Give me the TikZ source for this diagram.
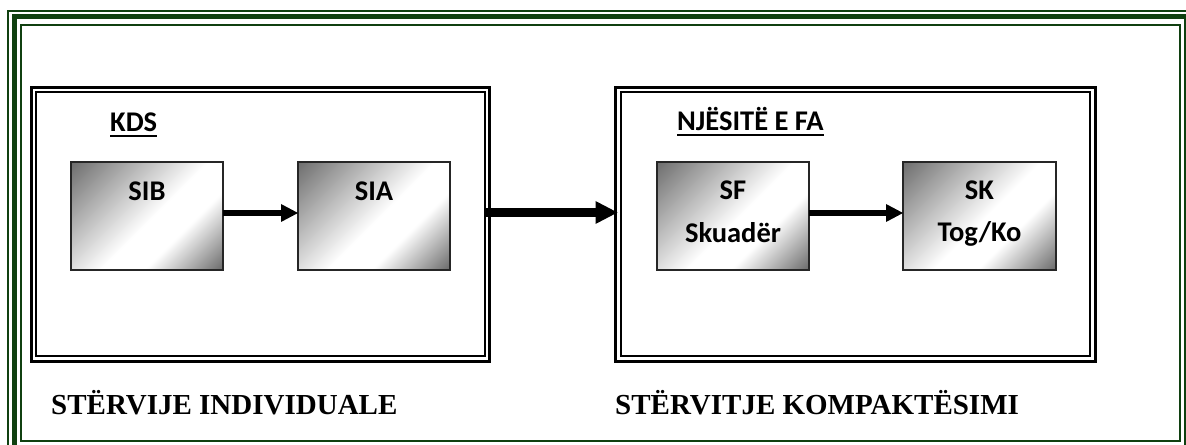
\documentclass[tikz,border=0pt]{standalone}
\usepackage{fontspec}
\setmainfont{Liberation Serif}
\newfontfamily\calfont{Carlito}
\usetikzlibrary{arrows.meta}
\definecolor{framegreen}{RGB}{16,64,16}
\pgfdeclareverticalshading{boxshade}{100bp}{color(0bp)=(black!60); color(14bp)=(black!60); color(36bp)=(white); color(48bp)=(white); color(86bp)=(black!58); color(100bp)=(black!58)}
\tikzset{
  groupbox/.style={draw, line width=3bp, rectangle, outer sep=0pt, inner sep=0pt},
  gradbox/.style={draw=black!85, line width=1.8bp, shading=boxshade, shading angle=45, minimum width=152bp, minimum height=108bp, inner sep=0pt, outer sep=0pt},
  boxtext/.style={font=\calfont\bfseries\fontsize{28.5bp}{34bp}\selectfont, inner sep=0pt, anchor=base},
  headtext/.style={font=\calfont\bfseries\fontsize{28.5bp}{34bp}\selectfont, inner sep=0pt, anchor=base west},
  bottomtext/.style={font=\bfseries\fontsize{29bp}{34bp}\selectfont, inner sep=0pt, anchor=base west},
  smallarrow/.style={line width=6bp, -{Triangle[length=17bp,width=18bp,line width=0pt]}},
  bigarrow/.style={line width=9bp, -{Triangle[length=22bp,width=23bp,line width=0pt]}},
}
\begin{document}
\begin{tikzpicture}[x=1bp,y=-1bp]
\useasboundingbox (0,0) rectangle (1186,445);
\clip (0,0) rectangle (1186,445);
% green page frame
\draw[framegreen, line width=2bp] (8,11) rectangle (1200,460);
\draw[framegreen, line width=5bp] (14.5,17) rectangle (1186,448);
\draw[framegreen, line width=2bp] (21,25) rectangle (1180,441.5);
% group boxes
\node[groupbox, minimum width=458bp, minimum height=273.5bp] (lbox) at (260.5,224.25) {};
\draw[line width=2bp] ([shift={(5bp,-5bp)}]lbox.north west) rectangle ([shift={(-5bp,5bp)}]lbox.south east);
\node[groupbox, minimum width=479.5bp, minimum height=273.5bp] (rbox) at (855.25,224.25) {};
\draw[line width=2bp] ([shift={(5bp,-5bp)}]rbox.north west) rectangle ([shift={(-5bp,5bp)}]rbox.south east);
% headings
\node[headtext] (kds) at (110,132) {KDS};
\draw[line width=2bp] ([yshift=-4bp]kds.base west) -- ([yshift=-4bp]kds.base east);
\node[headtext] (nje) at (677,131) {NJËSITË E FA};
\draw[line width=2bp] ([yshift=-4bp]nje.base west) -- ([yshift=-4bp]nje.base east);
% inner boxes
\node[gradbox] (sib) at (147,216) {};
\node[gradbox] (sia) at (374,216) {};
\node[gradbox] (sf) at (733,216) {};
\node[gradbox, minimum width=153bp] (sk) at (979.5,216) {};
\node[boxtext] (sibt) at ([yshift=-39bp]sib.north) {SIB};
\node[boxtext] (siat) at ([yshift=-39bp]sia.north) {SIA};
\node[boxtext] (sft) at ([yshift=-38bp]sf.north) {SF};
\node[boxtext] (sft2) at ([yshift=-81bp]sf.north) {Skuadër};
\node[boxtext] (skt) at ([yshift=-38bp]sk.north) {SK};
\node[boxtext] (skt2) at ([yshift=-80bp]sk.north) {Tog/Ko};
% arrows
\draw[smallarrow] ([yshift=3bp]sib.east) -- ([yshift=3bp]sia.west);
\draw[smallarrow] ([yshift=3bp]sf.east) -- ([yshift=3bp]sk.west);
\draw[bigarrow, shorten <=-5bp] ([yshift=11.75bp]lbox.east) -- ([yshift=11.75bp,xshift=2bp]rbox.west);
% bottom labels
\node[bottomtext] (indiv) at (51,415) {STËRVIJE INDIVIDUALE};
\node[bottomtext] (komp) at (615,415) {STËRVITJE KOMPAKTËSIMI};
\end{tikzpicture}
\end{document}
